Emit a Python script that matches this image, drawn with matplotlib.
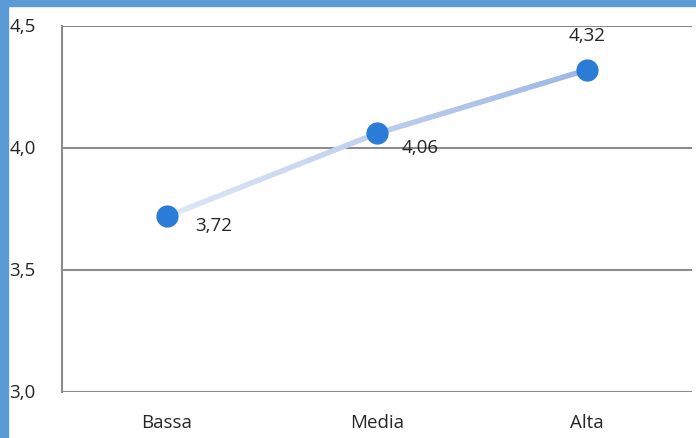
import matplotlib
matplotlib.use('Agg')
import matplotlib.pyplot as plt
import numpy as np
from matplotlib.collections import LineCollection
from matplotlib.patches import Rectangle

categories = ['Bassa', 'Media', 'Alta']
values = [3.72, 4.06, 4.32]
yticks = [3.0, 3.5, 4.0, 4.5]

plt.rcParams['font.family'] = ['Open Sans', 'DejaVu Sans']
FS = 13.5

fig = plt.figure(figsize=(6.96, 4.39), dpi=100)
ax = fig.add_axes([62/696, 1 - 393/439, 630/696, 366/439])

x = np.arange(len(categories))
ax.set_xlim(-0.5, len(categories) - 0.5)
ax.set_ylim(3.0, 4.5)

# gridlines and axis frame
for t in yticks:
    ax.axhline(t, color='#8c8c8c', lw=1.5, zorder=1)
for s in ['top', 'right', 'bottom']:
    ax.spines[s].set_visible(False)
ax.spines['left'].set_color('#8c8c8c')
ax.spines['left'].set_linewidth(1.5)

# line with a light-to-dark gradient stroke
pts = []
for i in range(len(x) - 1):
    f = np.linspace(0, 1, 60)
    xs = x[i] + f * (x[i+1] - x[i])
    ys = values[i] + f * (values[i+1] - values[i])
    pts.append(np.column_stack([xs, ys]))
pts = np.vstack(pts)
segs = np.stack([pts[:-1], pts[1:]], axis=1)
c0 = np.array(matplotlib.colors.to_rgb('#dfe7f6'))
c1 = np.array(matplotlib.colors.to_rgb('#9db7e6'))
w = np.linspace(0, 1, len(segs))[:, None]
cols = c0 * (1 - w) + c1 * w
lc = LineCollection(segs, colors=cols, linewidths=3.8, capstyle='round', zorder=2)
ax.add_collection(lc)

ax.plot(x, values, 'o', ms=15, color='#2b7cd6', mec='#2b7cd6', zorder=3)

# value labels, comma decimals
offsets = [(20, -6, 'left'), (18, -10, 'left'), (0, 25, 'center')]
for xi, v, (dx, dy, ha) in zip(x, values, offsets):
    ax.annotate(f'{v:.2f}'.replace('.', ','), (xi, v), xytext=(dx, dy),
                textcoords='offset points', ha=ha, va='center', fontsize=FS,
                color='#262626', zorder=4)

ax.set_xticks(x)
ax.set_xticklabels(categories)
ax.set_yticks(yticks)
ax.set_yticklabels([f'{t:.1f}'.replace('.', ',') for t in yticks])
ax.tick_params(length=0, labelsize=FS, colors='#262626')
ax.tick_params(axis='x', pad=15)
for lab in ax.get_yticklabels():
    lab.set_horizontalalignment('left')
    lab.set_verticalalignment('center')
    lab.set_x(-48/630)

# blue frame strips on the left and top edges
fig.patches.append(Rectangle((0, 0), 8/696, 1, transform=fig.transFigure,
                             color='#5b9bd5', zorder=10))
fig.patches.append(Rectangle((0, 1 - 7/439), 1, 7/439, transform=fig.transFigure,
                             color='#5b9bd5', zorder=10))

fig.savefig('out.png', dpi=100)
